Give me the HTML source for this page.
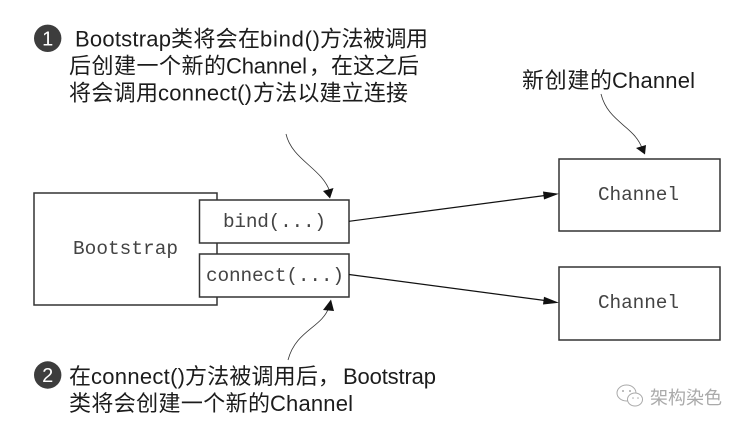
<!DOCTYPE html>
<html>
<head>
<meta charset="utf-8">
<style>
html,body{margin:0;padding:0;background:#fff;width:746px;height:429px;overflow:hidden}
svg{display:block}
.t{font-family:"Liberation Sans","Noto Sans CJK SC",sans-serif;font-size:22px;fill:#1c1c1c}
.m{font-family:"Liberation Mono",monospace;font-size:19.4px;fill:#444}
.b{fill:#fff;stroke:#333;stroke-width:1.5}
.l{fill:none;stroke:#111;stroke-width:1.2}
.c{fill:none;stroke:#333;stroke-width:.8}
</style>
</head>
<body>
<svg width="746" height="429" viewBox="0 0 746 429" xmlns="http://www.w3.org/2000/svg">
<rect width="746" height="429" fill="#fff"/>

<circle cx="47.700" cy="38.300" r="13.700" fill="#3d3d3d"/>
<text x="47.700" y="45.500" text-anchor="middle" font-family="Liberation Sans,sans-serif" font-size="20" fill="#fff">1</text>
<text class="t" x="75" y="46.500" textLength="96">Bootstrap</text>
<text class="t" x="171" y="46.500" textLength="89">类将会在</text>
<text class="t" x="260" y="46.500" textLength="60">bind()</text>
<text class="t" x="320" y="46.500" textLength="108">方法被调用</text>

<text class="t" x="69" y="73.500" textLength="157">后创建一个新的</text>
<text class="t" x="226" y="73.500" textLength="81">Channel</text>
<text class="t" x="309" y="73.500" textLength="110">，在这之后</text>

<text class="t" x="69" y="100.500" textLength="89">将会调用</text>
<text class="t" x="158" y="100.500" textLength="94">connect()</text>
<text class="t" x="253" y="100.500" textLength="155">方法以建立连接</text>

<text class="t" x="522" y="88" textLength="90">新创建的</text>
<text class="t" x="612" y="88" textLength="83">Channel</text>

<circle cx="47.700" cy="375" r="13.700" fill="#3d3d3d"/>
<text x="47.700" y="382" text-anchor="middle" font-family="Liberation Sans,sans-serif" font-size="20" fill="#fff">2</text>
<text class="t" x="69" y="384" textLength="22">在</text>
<text class="t" x="91" y="384" textLength="94">connect()</text>
<text class="t" x="185" y="384" textLength="155">方法被调用后，</text>
<text class="t" x="343" y="384" textLength="93">Bootstrap</text>

<text class="t" x="69" y="411" textLength="201">类将会创建一个新的</text>
<text class="t" x="270" y="411" textLength="83">Channel</text>

<rect class="b" x="34" y="193" width="183" height="112"/>
<rect class="b" x="199.500" y="200" width="149.500" height="43"/>
<rect class="b" x="199.500" y="254" width="149.500" height="43"/>
<rect class="b" x="559" y="159" width="161" height="72"/>
<rect class="b" x="559" y="267" width="161" height="73"/>

<text class="m" x="73" y="254" textLength="105">Bootstrap</text>
<text class="m" x="223" y="227" textLength="103">bind(...)</text>
<text class="m" x="206" y="281" textLength="138">connect(...)</text>
<text class="m" x="598" y="200" textLength="81">Channel</text>
<text class="m" x="598" y="308" textLength="81">Channel</text>

<path class="l" d="M349 221.300L545 195.500"/>
<path d="M559 193.700L543 191.500L544 199.500Z" fill="#111"/>
<path class="l" d="M349 274.500L545 300.500"/>
<path d="M559 302.700L544 296.700L543 304.500Z" fill="#111"/>

<path class="c" d="M286 134C292 160 322 168 330 192"/>
<path d="M330 198.500L323 191L333.500 188Z" fill="#111"/>
<path class="c" d="M288 360C296 330 322 328 329 307"/>
<path d="M331 299.500L323 310L334 311Z" fill="#111"/>
<path class="c" d="M601 94C608 122 634 126 642 148"/>
<path d="M645 154.500L636 148L646 145Z" fill="#111"/>

<g fill="none" stroke="#aaa" stroke-width="1">
<ellipse cx="626.500" cy="393" rx="9.500" ry="8"/>
<ellipse cx="635" cy="399.500" rx="7.500" ry="6.500" fill="#fff"/>
</g>
<circle cx="623" cy="391" r="1" fill="#aaa"/>
<circle cx="630" cy="391" r="1" fill="#aaa"/>
<circle cx="633" cy="398" r=".8" fill="#aaa"/>
<circle cx="638" cy="398" r=".8" fill="#aaa"/>
<text x="650" y="404" font-family="'Liberation Sans','Noto Sans CJK SC',sans-serif" font-size="18" fill="#aaa">架构染色</text>
</svg>
</body>
</html>
